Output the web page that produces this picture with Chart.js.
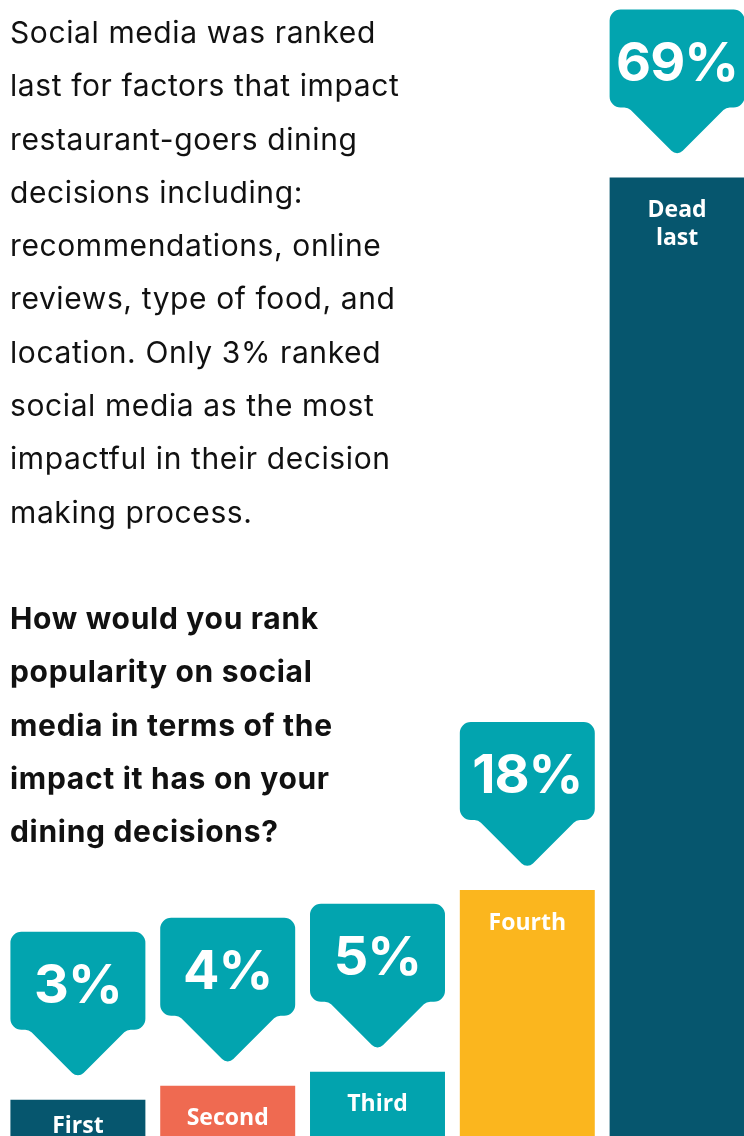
<!DOCTYPE html>
<html>
<head>
<meta charset="utf-8">
<script src="https://cdn.jsdelivr.net/npm/chart.js@4/dist/chart.umd.min.js"></script>
<style>
  html, body { margin: 0; padding: 0; background: #fff; overflow: hidden; width: 744px; height: 1136px; }
  #wrap { position: absolute; left: 3px; top: 0; width: 749px; height: 1136px; }
  #txt { position: absolute; left: 10px; top: 6px; font-family: Inter, "Noto Sans", sans-serif; color: #111; font-size: 30px; line-height: 53.3px; letter-spacing: 0.6px; z-index: 2; }
  #txt p { margin: 0; }
  #txt .q { font-weight: 700; margin-top: 53px; letter-spacing: 0.7px; }
</style>
</head>
<body>
<div id="txt">
  <p>Social media was ranked<br>last for factors that impact<br>restaurant-goers dining<br>decisions including:<br>recommendations, online<br>reviews, type of food, and<br>location. Only 3% ranked<br>social media as the most<br>impactful in their decision<br>making process.</p>
  <p class="q">How would you rank<br>popularity on social<br>media in terms of the<br>impact it has on your<br>dining decisions?</p>
</div>
<div id="wrap"><canvas id="c"></canvas></div>
<script>
const categories = ["First", "Second", "Third", "Fourth", ["Dead", "last"]];
const shares = [3, 4, 5, 18, 69];
const calloutLabels = ["3%", "4%", "5%", "18%", "69%"];
const barColors = ["#06566e", "#ef6a51", "#02a3ae", "#fbb61e", "#06566e"];
const calloutColor = "#02a4af";

const calloutPlugin = {
  id: "callouts",
  afterDatasetsDraw(chart) {
    const ctx = chart.ctx;
    const meta = chart.getDatasetMeta(0);
    const bottom = chart.chartArea.bottom;
    meta.data.forEach((bar, i) => {
      const cx = bar.x, topY = bar.y, w = bar.width;
      const left = cx - w / 2, right = cx + w / 2;
      const bTop = topY - 168, bBot = topY - 70, apex = topY - 21;
      const r = 11, f = 9, tipR = 8, hw = 49;
      ctx.save();
      ctx.fillStyle = calloutColor;
      ctx.beginPath();
      ctx.moveTo(left + r, bTop);
      ctx.arcTo(right, bTop, right, bBot, r);
      ctx.arcTo(right, bBot, cx + hw, bBot, r);
      ctx.arcTo(cx + hw, bBot, cx, apex, f);
      ctx.arcTo(cx, apex, cx - hw, bBot, tipR);
      ctx.arcTo(cx - hw, bBot, left, bBot, f);
      ctx.arcTo(left, bBot, left, bTop, r);
      ctx.arcTo(left, bTop, right, bTop, r);
      ctx.closePath();
      ctx.fill();
      ctx.fillStyle = "#fff";
      ctx.textAlign = "center";
      ctx.textBaseline = "middle";
      ctx.font = "700 54px Inter, sans-serif";
      if ("letterSpacing" in ctx) ctx.letterSpacing = "-1px";
      ctx.fillText(calloutLabels[i], cx, (bTop + bBot) / 2 + 6);
      if ("letterSpacing" in ctx) ctx.letterSpacing = "0px";
      // bar label
      ctx.font = "700 23px 'Open Sans', sans-serif";
      const lab = categories[i];
      const lines = Array.isArray(lab) ? lab : [lab];
      const y0 = Math.min(topY + 33, bottom - 10);
      lines.forEach((ln, k) => ctx.fillText(ln, cx, y0 + k * 28));
      ctx.restore();
    });
  }
};

new Chart(document.getElementById("c"), {
  type: "bar",
  data: {
    labels: categories,
    datasets: [{
      data: shares,
      backgroundColor: barColors,
      borderWidth: 0,
      barPercentage: 0.901,
      categoryPercentage: 1
    }]
  },
  options: {
    responsive: true,
    maintainAspectRatio: false,
    animation: false,
    layout: { padding: 0 },
    plugins: { legend: { display: false }, tooltip: { enabled: false } },
    scales: {
      x: { display: false },
      y: { display: false, min: 0.4, max: 81.7 }
    }
  },
  plugins: [calloutPlugin]
});
</script>
</body>
</html>
